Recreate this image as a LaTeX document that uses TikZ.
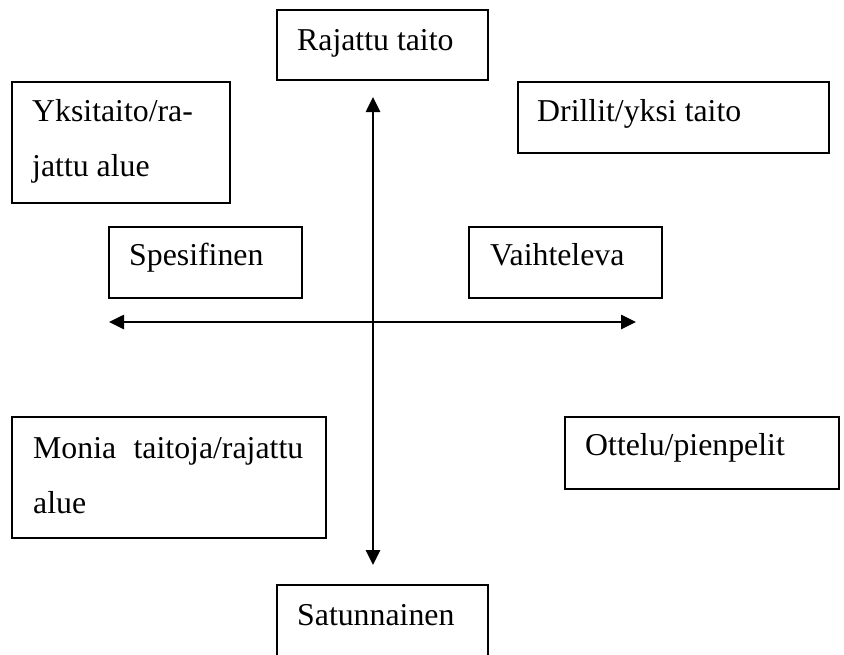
\documentclass[tikz,border=0pt]{standalone}
\usepackage{fontspec}
\setmainfont{Liberation Serif}
\usetikzlibrary{arrows.meta}
\begin{document}
\begin{tikzpicture}[x=1pt,y=-1pt,
  box/.style={draw=black,line width=2.2pt,inner sep=0pt,anchor=north west},
  lbl/.style={inner sep=0pt,anchor=base west,font=\fontsize{31.8}{55}\selectfont},
  axis/.style={line width=2.6pt,{Triangle[length=15pt,width=14pt]}-{Triangle[length=15pt,width=14pt]}}]
\useasboundingbox (0,0) rectangle (844,654);
% boxes
\node[box,minimum width=211pt,minimum height=70pt] (rj) at (276,9) {};
\node[box,minimum width=218pt,minimum height=121pt] (yk) at (11,81) {};
\node[box,minimum width=311pt,minimum height=71pt] (dr) at (517,81) {};
\node[box,minimum width=193pt,minimum height=71pt] (sp) at (108,226) {};
\node[box,minimum width=193pt,minimum height=71pt] (va) at (468,226) {};
\node[box,minimum width=314pt,minimum height=121pt] (mo) at (11,416) {};
\node[box,minimum width=274pt,minimum height=72pt] (ot) at (564,416) {};
\node[box,minimum width=211pt,minimum height=100pt] (sa) at (276,584) {};
% texts
\node[lbl] (rjt) at (297,50) {Rajattu taito};
\node[lbl] (ykt1) at (32,121) {Yksitaito/ra-};
\node[lbl] (ykt2) at (32,176) {jattu alue};
\node[lbl] (drt) at (537,121) {Drillit/yksi taito};
\node[lbl] (spt) at (129,265) {Spesifinen};
\node[lbl] (vat) at (490,265) {Vaihteleva};
\node[lbl] (mot1) at (33,458) {\makebox[270pt][s]{Monia taitoja/rajattu}};
\node[lbl] (mot2) at (33,513) {alue};
\node[lbl] (ott) at (585,455) {Ottelu/pienpelit};
\node[lbl] (sat) at (297,625) {Satunnainen};
% axes
\coordinate (top) at (373,97);
\coordinate (bot) at (373,565);
\coordinate (lft) at (109,322);
\coordinate (rgt) at (636,322);
\draw[axis] (top) -- (bot);
\draw[axis] (lft) -- (rgt);
\end{tikzpicture}
\end{document}
